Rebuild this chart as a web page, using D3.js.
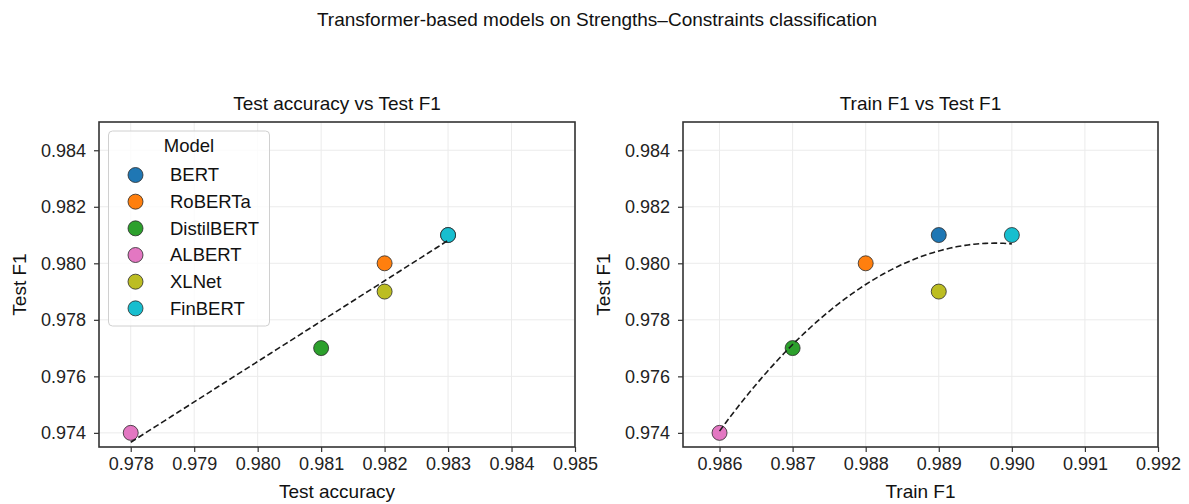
<!DOCTYPE html>
<html>
<head>
<meta charset="utf-8">
<script src="https://cdn.jsdelivr.net/npm/d3@7"></script>
<style>
  body { margin: 0; background: #fff; }
  svg { font-family: "Liberation Sans", Arial, sans-serif; }
</style>
</head>
<body>
<div id="chart"></div>
<script>
var w = 1189;
var h = 504;

// data
var models = ["BERT", "RoBERTa", "DistilBERT", "ALBERT", "XLNet", "FinBERT"];
var colors = ["#1f77b4", "#ff7f0e", "#2ca02c", "#e377c2", "#bcbd22", "#17becf"];
var testAcc = [0.983, 0.982, 0.981, 0.978, 0.982, 0.983];
var trainF1 = [0.989, 0.988, 0.987, 0.986, 0.989, 0.990];
var testF1 = [0.981, 0.980, 0.977, 0.974, 0.979, 0.981];

var accTicks = [0.978, 0.979, 0.980, 0.981, 0.982, 0.983, 0.984, 0.985];
var trainTicks = [0.986, 0.987, 0.988, 0.989, 0.990, 0.991, 0.992];
var f1Ticks = [0.974, 0.976, 0.978, 0.980, 0.982, 0.984];

var svg = d3.select("#chart")
            .append("svg")
            .attr("width", w)
            .attr("height", h);

svg.append("text")
   .attr("x", 597)
   .attr("y", 26)
   .attr("text-anchor", "middle")
   .style("font-size", "19px")
   .attr("fill", "#111")
   .text("Transformer-based models on Strengths\u2013Constraints classification");

var plotTop = 122, plotBottom = 447;

// least squares polynomial fit, order 1 or 2
function polyFit(xs, ys, order){
  var x0 = d3.mean(xs);
  var n = order + 1;
  var A = [], b = [];
  for (var i = 0; i < n; i++){
    A.push([]);
    b.push(d3.sum(xs, function(x, k){ return Math.pow(x - x0, i) * ys[k]; }));
    for (var j = 0; j < n; j++){
      A[i].push(d3.sum(xs, function(x){ return Math.pow(x - x0, i + j); }));
    }
  }
  // gaussian elimination
  for (var c = 0; c < n; c++){
    for (var r = c + 1; r < n; r++){
      var f = A[r][c] / A[c][c];
      for (var k = c; k < n; k++) A[r][k] -= f * A[c][k];
      b[r] -= f * b[c];
    }
  }
  var coef = new Array(n);
  for (var r2 = n - 1; r2 >= 0; r2--){
    var s = b[r2];
    for (var k2 = r2 + 1; k2 < n; k2++) s -= A[r2][k2] * coef[k2];
    coef[r2] = s / A[r2][r2];
  }
  return function(x){
    var v = 0;
    for (var p = 0; p < n; p++) v += coef[p] * Math.pow(x - x0, p);
    return v;
  };
}

function drawPanel(opt){
  var x = d3.scaleLinear().domain(opt.xDomain).range([opt.left, opt.right]);
  var y = d3.scaleLinear().domain([0.9735, 0.985]).range([plotBottom, plotTop]);
  var g = svg.append("g");

  // grid
  g.append("g").selectAll("line")
   .data(opt.xTicks).enter().append("line")
   .attr("x1", function(d){ return x(d); }).attr("x2", function(d){ return x(d); })
   .attr("y1", plotTop).attr("y2", plotBottom)
   .attr("stroke", "#ebebeb").attr("stroke-width", 1);
  g.append("g").selectAll("line")
   .data(f1Ticks).enter().append("line")
   .attr("y1", function(d){ return y(d); }).attr("y2", function(d){ return y(d); })
   .attr("x1", opt.left).attr("x2", opt.right)
   .attr("stroke", "#ebebeb").attr("stroke-width", 1);

  // axes
  var xAxis = g.append("g")
   .attr("transform", "translate(0," + plotBottom + ")")
   .call(d3.axisBottom(x).tickValues(opt.xTicks).tickFormat(d3.format(".3f")).tickSize(5).tickPadding(5));
  var yAxis = g.append("g")
   .attr("transform", "translate(" + opt.left + ",0)")
   .call(d3.axisLeft(y).tickValues(f1Ticks).tickFormat(d3.format(".3f")).tickSize(5).tickPadding(8));
  [xAxis, yAxis].forEach(function(a){
    a.select(".domain").remove();
    a.selectAll("line").attr("stroke", "#333").attr("stroke-width", 1.2);
    a.selectAll("text").style("font-size", "18px").attr("fill", "#222").attr("font-family", null);
  });

  g.append("rect")
   .attr("x", opt.left).attr("y", plotTop)
   .attr("width", opt.right - opt.left).attr("height", plotBottom - plotTop)
   .attr("fill", "none").attr("stroke", "#333").attr("stroke-width", 1.6);

  // points
  g.append("g").selectAll("circle")
   .data(models).enter().append("circle")
   .attr("cx", function(d, i){ return x(opt.xs[i]); })
   .attr("cy", function(d, i){ return y(testF1[i]); })
   .attr("r", 7.5)
   .attr("fill", function(d, i){ return colors[i]; })
   .attr("stroke", "#2a2a2a").attr("stroke-width", 0.8);

  // fit line
  var fit = polyFit(opt.xs, testF1, opt.order);
  var ext = d3.extent(opt.xs);
  var pts = d3.range(0, 101).map(function(k){ return ext[0] + (ext[1] - ext[0]) * k / 100; });
  g.append("path")
   .datum(pts)
   .attr("d", d3.line().x(function(d){ return x(d); }).y(function(d){ return y(fit(d)); }))
   .attr("fill", "none").attr("stroke", "#1a1a1a").attr("stroke-width", 1.6)
   .attr("stroke-dasharray", "6,3");

  // titles
  g.append("text")
   .attr("x", (opt.left + opt.right) / 2).attr("y", 110)
   .attr("text-anchor", "middle").style("font-size", "19px").attr("fill", "#111")
   .text(opt.title);
  g.append("text")
   .attr("x", (opt.left + opt.right) / 2).attr("y", 498)
   .attr("text-anchor", "middle").style("font-size", "19px").attr("fill", "#111")
   .text(opt.xLabel);
  g.append("text")
   .attr("transform", "translate(" + (opt.left - 73) + "," + ((plotTop + plotBottom) / 2) + ") rotate(-90)")
   .attr("text-anchor", "middle").style("font-size", "19px").attr("fill", "#111")
   .text("Test F1");
  return g;
}

var g1 = drawPanel({
  left: 99, right: 575, xDomain: [0.9775, 0.985], xTicks: accTicks,
  xs: testAcc, order: 1, title: "Test accuracy vs Test F1", xLabel: "Test accuracy"
});
drawPanel({
  left: 683, right: 1158, xDomain: [0.9855, 0.992], xTicks: trainTicks,
  xs: trainF1, order: 2, title: "Train F1 vs Test F1", xLabel: "Train F1"
});

// legend
var legend = g1.append("g");
legend.append("rect")
  .attr("x", 108.5).attr("y", 131).attr("width", 161).attr("height", 195)
  .attr("rx", 4).attr("fill", "#fff").attr("fill-opacity", 0.8)
  .attr("stroke", "#d0d0d0").attr("stroke-width", 1);
legend.append("text")
  .attr("x", 189).attr("y", 152).attr("text-anchor", "middle")
  .style("font-size", "18.5px").attr("fill", "#111").text("Model");
var item = legend.selectAll(".item").data(models).enter().append("g")
  .attr("transform", function(d, i){ return "translate(0," + (175 + i * 26.67) + ")"; });
item.append("circle")
  .attr("cx", 135.5).attr("cy", 0).attr("r", 7.5)
  .attr("fill", function(d, i){ return colors[i]; })
  .attr("stroke", "#2a2a2a").attr("stroke-width", 0.8);
item.append("text")
  .attr("x", 170).attr("y", 0).attr("dy", "0.35em")
  .style("font-size", "18.5px").attr("fill", "#111").text(function(d){ return d; });
</script>
</body>
</html>
